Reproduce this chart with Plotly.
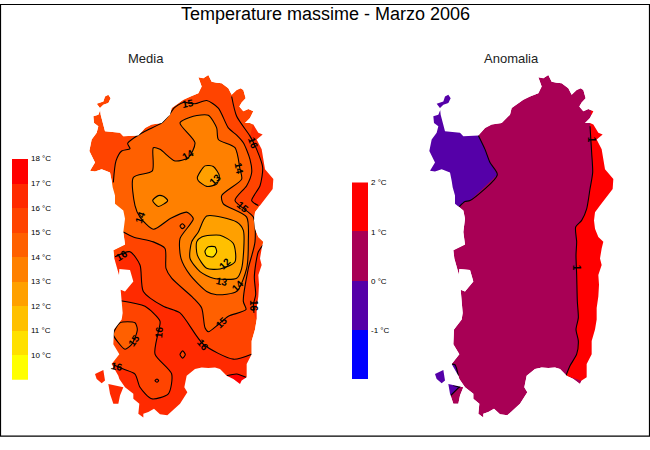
import plotly.graph_objects as go

TITLE = "Temperature massime - Marzo 2006"
LEFT_TITLE = "Media"
RIGHT_TITLE = "Anomalia"

# legends
TEMP_LEVELS = [9, 10, 11, 12, 13, 14, 15, 16, 17]
TEMP_COLORS = ["#FFFF00", "#FFE000", "#FFC000", "#FFA000", "#FF8000", "#FF6000", "#FF4400", "#FF2A00", "#FF0000"]
TEMP_TICKS = [10, 11, 12, 13, 14, 15, 16, 17, 18]
ANOM_LEVELS = [-2, -1, 0, 1]
ANOM_COLORS = ["#0000FF", "#5500A8", "#A80055", "#FF0000"]
ANOM_TICKS = [-1, 0, 1, 2]

# Island outline, traced
COAST = [(355,12),(370,15),(385,5),(395,25),(410,28),(425,30),(445,45),(455,65),(462,58),(470,50),(482,45),(490,50),(497,75),(485,88),(478,100),(490,115),(505,108),(520,115),
 (510,135),(495,150),(510,150),(520,155),(535,180),(548,185),(530,200),(545,230),(550,260),(555,290),(565,300),(580,320),(578,350),(560,375),(540,400),(525,420),(522,445),(525,470),(535,495),
 (550,510),(545,530),(540,560),(545,580),(535,610),(537,640),(535,675),(530,710),(530,745),(525,775),(515,810),(515,850),(500,880),(500,920),(485,930),
 (480,940),(460,925),(440,915),(420,895),(405,890),(385,892),(365,890),(345,895),(320,915),(313,950),(322,965),(300,1000),(262,1035),(240,1032),(222,1015),
 (205,1025),(190,1030),(190,1042),(175,1030),(178,1000),(160,985),(160,970),(135,950),(118,925),(115,915),(95,880),(118,850),(100,820),(102,775),
 (125,745),(128,725),(122,655),(135,660),(160,630),(150,595),(118,592),(117,610),(103,560),(100,535),(135,518),(130,480),
 (135,440),(130,415),(105,395),(105,370),(98,345),(95,325),(90,300),(65,290),(45,297),(30,295),(45,270),(28,235),(35,200),(50,180),(55,160),
 (42,150),(40,130),(55,125),(62,108),(50,92),(70,85),(75,70),(85,65),(92,75),(85,90),(70,95),(60,105),(62,125),(75,175),(120,180),(130,190),(175,188),
 (195,165),(215,155),(245,150),(265,130),(270,125),(275,105),(310,80),(330,70),(355,60),(365,40)]
ISLE_A = [(45,910),(70,898),(75,930),(65,938),(50,925)]
ISLE_B = [(85,940),(130,950),(120,975),(115,1000),(100,1000),(90,970)]

# Isotherms of the Media map
C15 = [(100,330),(108,265),(125,235),(150,228),(143,212),(190,178),(245,150),(270,122),(282,105),(310,88),(345,92),(380,82),
 (415,105),(445,165),(470,187),(490,210),(510,260),(515,300),(500,340),(465,385),(520,435),(525,510),(505,590),(490,690),
 (498,715),(445,735),(415,760),(385,782),(375,770),(365,710),(340,680),(275,620),(258,590),(255,530),(220,510),(160,495),(130,480)]
C14 = [(300,150),(340,130),(385,127),(410,165),(415,200),(465,225),(480,290),(485,320),(425,370),(430,395),(500,435),(505,510),
 (500,590),(470,660),(410,670),(380,660),(330,610),(303,560),(300,500),(340,440),(320,420),(270,440),(220,472),(180,435),
 (165,400),(160,315),(217,295),(220,225),(240,230),(285,265),(325,255),(345,210),(300,150)]
C13 = [(380,432),(470,450),(490,475),(485,590),(470,620),(400,620),(360,600),(330,560),(335,510),(355,480),(380,432)]
C12 = [(350,510),(365,495),(420,490),(460,515),(465,570),(420,592),(380,590),(352,550),(350,510)]
C11 = [(375,538),(385,525),(405,525),(410,540),(400,555),(380,552),(375,538)]
SPOT13A = [(352,315),(375,280),(400,282),(418,310),(410,335),(380,342),(355,325),(352,315)]
SPOT13B = [(218,385),(235,370),(250,372),(263,385),(235,403),(218,385)]
SPOT15A = [(300,462),(307,455),(315,463),(307,470),(300,462)]
SPOT15B = [(100,790),(120,755),(165,755),(172,775),(165,800),(155,820),(135,835),(115,815),(100,790)]
DIAMOND16 = [(300,851),(308,840),(316,851),(308,862),(300,851)]
RING16 = [(225,930),(231,925),(236,930),(231,935),(225,930)]
N16 = [(105,555),(150,540),(180,580),(190,660),(250,705),(300,725),(370,820),(460,865),(515,850)]
S16 = [(122,688),(195,705),(240,750),(235,782),(225,850),(275,910),(265,970),(215,985),(180,950),(165,910),(130,895),(100,882)]
E16 = [(455,70),(470,130),(510,190),(530,230),(548,285),(540,340),(515,385),(535,400)]
E16B = [(553,515),(535,540),(523,615),(527,670),(520,700),(522,725)]
T17 = [(440,915),(470,910),(498,920)]

# Zero/one degree isolines of the Anomalia map
A0 = [(175,188),(195,230),(210,270),(232,307),(150,385),(135,388),(118,403)]
A1 = [(510,160),(515,240),(518,300),(510,350),(500,410),(485,445),(467,465),(470,510),(468,550),(470,610),(472,690),
 (475,740),(468,775),(475,810),(470,850),(450,885),(438,915)]
A0B = [(95,880),(105,882),(115,915)]
A0C = [(122,945),(92,975)]
A0D = [(100,945),(120,950)]

# isoline labels: text, x, y, angle
LEFT_LABELS = [("15",325,92,-10),("14",325,245,-30),("13",405,320,-45),("14",477,288,80),("16",520,212,70),("15",490,405,40),
 ("14",180,435,-70),("13",425,630,10),("12",435,575,-45),("14",475,643,-45),("15",425,755,-45),("16",370,823,50),
 ("16",238,782,-85),("15",162,808,-55),("16",110,888,10),("16",125,552,-30),("16",520,705,90)]
RIGHT_LABELS = [("1",515,200,90),("1",470,587,90)]


def px(points, dx=0):
    return [80 + p[0] / 3 + dx for p in points], [70 + p[1] / 3 for p in points]


def area(points):
    return sum(points[i][0] * points[(i + 1) % len(points)][1] - points[(i + 1) % len(points)][0] * points[i][1]
               for i in range(len(points)))


fig = go.Figure()
SMOOTH = dict(shape="spline", smoothing=0.7)


def fill(points, color, dx=0, smooth=False):
    x, y = px(points, dx)
    ln = dict(width=0, **SMOOTH) if smooth else dict(width=0)
    fig.add_trace(go.Scatter(x=x, y=y, mode="lines", fill="toself", fillcolor=color, line=ln,
                             hoverinfo="skip", showlegend=False))


def line(points, dx=0):
    x, y = px(points, dx)
    fig.add_trace(go.Scatter(x=x, y=y, mode="lines", line=dict(color="black", width=1.1, **SMOOTH),
                             hoverinfo="skip", showlegend=False))


# Media: painted from the outside in
for part in (COAST, ISLE_A, ISLE_B):
    fill(part, "#FF4400")
fill(N16 + [(700, 850), (700, 1150), (-100, 1150), (-100, 555)], "#FF2A00", smooth=True)
fill(ISLE_A, "#FF2A00")
fill(S16 + [(-100, 882), (-100, 688)], "#FF4400", smooth=True)
fill(RING16, "#FF2A00", smooth=True)
fill(DIAMOND16, "#FF4400")
fill(E16[2:] + [(700, 400), (700, 150), (520, 150)], "#FF2A00", smooth=True)
fill(E16B + [(530, 745), (700, 745), (700, 515)], "#FF2A00", smooth=True)
fill(T17 + [(500, 950), (440, 950)], "#FF0000", smooth=True)
fill(C15 + [(60, 480), (60, 330)], "#FF6000", smooth=True)
fill(SPOT15B, "#FF6000", smooth=True)
fill(C14, "#FF8000", smooth=True)
fill(SPOT15A, "#FF6000")
for ring, color in ((SPOT13A, "#FFA000"), (SPOT13B, "#FFA000"), (C13, "#FFA000"), (C12, "#FFC000"), (C11, "#FFE000")):
    fill(ring, color, smooth=True)
for c in (C15, C14, C13, C12, C11, SPOT13A, SPOT13B, SPOT15A, SPOT15B, DIAMOND16, RING16, N16, S16, E16, E16B, T17):
    line(c)

# Anomalia
D = 340
for part in (COAST, ISLE_A, ISLE_B):
    fill(part, "#A80055", D)
fill(A0 + [(50, 403), (-30, 300), (-30, 40), (175, 40)], "#5500A8", D)
fill(A1[::-1] + [(510, 150), (700, 150), (700, 1000)], "#FF0000", D)
fill([(512, 112), (530, 112), (530, 125), (512, 125)], "#FF0000", D)
fill([(25, 880), (95, 880), (105, 882), (115, 915), (80, 945), (25, 945)], "#5500A8", D)
fill([(80, 935), (122, 945), (92, 975), (75, 960)], "#5500A8", D)
for c in (A0, A1, A0B, A0C, A0D):
    line(c, D)

# White surround leaving only the two islands visible
W = [(-5, -5), (655, -5), (655, 455), (-5, 455)]
mx, my = [W[0][0]], [W[0][1]]
for p in W[1:] + W[:1]:
    mx.append(p[0]); my.append(p[1])
sign = area(W)
for dx in (0, D):
    for part in (COAST, ISLE_A, ISLE_B):
        hx, hy = px(part, dx)
        pts = list(zip(hx, hy))
        if area(pts) * sign > 0:
            pts = pts[::-1]
        mx += [p[0] for p in pts] + [pts[0][0], W[0][0]]
        my += [p[1] for p in pts] + [pts[0][1], W[0][1]]
fig.add_trace(go.Scatter(x=mx, y=my, mode="lines", fill="toself", fillcolor="white", line=dict(width=0),
                         hoverinfo="skip", showlegend=False))

# Colour legends on their own axes
fig.add_trace(go.Bar(x=[0] * len(TEMP_LEVELS), y=[1] * len(TEMP_LEVELS), base=TEMP_LEVELS, width=1,
                     marker=dict(color=TEMP_COLORS, line=dict(width=0)), xaxis="x2", yaxis="y2",
                     hoverinfo="skip", showlegend=False))
fig.add_trace(go.Bar(x=[0] * len(ANOM_LEVELS), y=[1] * len(ANOM_LEVELS), base=ANOM_LEVELS, width=1,
                     marker=dict(color=ANOM_COLORS, line=dict(width=0)), xaxis="x3", yaxis="y3",
                     hoverinfo="skip", showlegend=False))

ann = []
for t, x0, y0, a in LEFT_LABELS:
    x, y = px([(x0, y0)])
    ann.append(dict(x=x[0], y=y[0], text=t, textangle=a, showarrow=False, xref="x", yref="y",
                    font=dict(family="Liberation Sans", size=10, color="black", weight="bold")))
for t, x0, y0, a in RIGHT_LABELS:
    x, y = px([(x0, y0)], D)
    ann.append(dict(x=x[0], y=y[0], text=t, textangle=a, showarrow=False, xref="x", yref="y",
                    font=dict(family="Liberation Sans", size=10, color="black", weight="bold")))
ann.append(dict(x=325, y=10, text=TITLE, showarrow=False, xref="x", yref="y",
                font=dict(family="Liberation Sans", size=18, color="black")))
ann.append(dict(x=146, y=55, text=LEFT_TITLE, showarrow=False, xref="x", yref="y",
                font=dict(family="Liberation Sans", size=13, color="#222222")))
ann.append(dict(x=511, y=55, text=RIGHT_TITLE, showarrow=False, xref="x", yref="y",
                font=dict(family="Liberation Sans", size=13, color="#222222")))

tick_font = dict(family="Liberation Sans", size=8, color="black")
fig.update_layout(
    width=650, height=450, margin=dict(l=0, r=0, t=0, b=0), autosize=False,
    paper_bgcolor="white", plot_bgcolor="white", hovermode=False, showlegend=False, bargap=0,
    annotations=ann,
    xaxis=dict(range=[0, 650], domain=[0, 1], visible=False, fixedrange=True),
    yaxis=dict(range=[450, 0], domain=[0, 1], visible=False, fixedrange=True),
    xaxis2=dict(range=[-0.5, 0.5], domain=[12 / 650, 28 / 650], visible=False, anchor="y2"),
    yaxis2=dict(range=[9, 18], domain=[71 / 450, 294 / 450], anchor="x2", side="right", tickvals=TEMP_TICKS,
                ticktext=[f"{v} °C" for v in TEMP_TICKS], showgrid=False, zeroline=False, showline=False,
                ticks="", tickfont=tick_font, ticklabelstandoff=2),
    xaxis3=dict(range=[-0.5, 0.5], domain=[352 / 650, 368 / 650], visible=False, anchor="y3"),
    yaxis3=dict(range=[-2, 2], domain=[71 / 450, 270 / 450], anchor="x3", side="right", tickvals=ANOM_TICKS,
                ticktext=[f"{v} °C" for v in ANOM_TICKS], showgrid=False, zeroline=False, showline=False,
                ticks="", tickfont=tick_font, ticklabelstandoff=2),
    shapes=[dict(type="rect", xref="x", yref="y", x0=0.5, x1=649.5, y0=0.5, y1=436,
                 line=dict(color="black", width=1.2), fillcolor="rgba(0,0,0,0)", layer="above")],
)
fig.write_html("out.html", config=dict(displayModeBar=False),
               post_script="document.body.style.margin='0';document.body.style.overflow='hidden';window.dispatchEvent(new Event('resize'));")
